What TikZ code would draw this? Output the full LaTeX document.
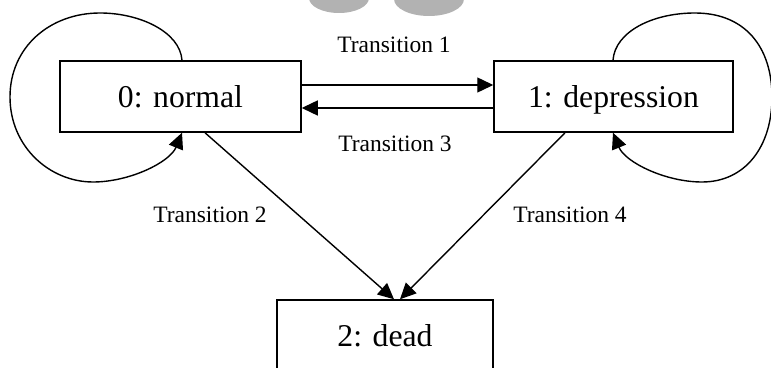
\documentclass[tikz,border=0pt]{standalone}
\usepackage{fontspec}
\setmainfont{Liberation Serif}
\usetikzlibrary{arrows.meta}

\tikzset{
	state/.style={draw, line width=1.5pt, minimum height=71pt, inner sep=0pt,
		text height=21.5pt, text depth=0pt, font=\fontsize{31.7}{36}\selectfont},
	trans/.style={line width=1.4pt, -{Triangle[length=16pt,width=15pt]}},
	lbl/.style={anchor=base, inner sep=0pt, font=\fontsize{23.5}{28}\selectfont}
}

\begin{document}
\begin{tikzpicture}[x=1pt,y=1pt]
\useasboundingbox (0,0) rectangle (771,367);
\clip (0,0) rectangle (771,367);
\fill[color=black!30!white] (339,369) ellipse (30pt and 15pt);
\fill[color=black!30!white] (429,368) ellipse (35pt and 17pt);

\node[state, minimum width=241pt] (normal) at (180.5,270.5) {0: normal};
\node[state, minimum width=239pt] (depr) at (613.5,270.5) {1: depression};
\node[state, minimum width=216pt] (dead) at (385,31.5) {2: dead};

\draw[trans] ([yshift=11.5pt]normal.east) -- ([yshift=11.5pt]depr.west);
\draw[trans] ([yshift=-11.5pt]depr.west) -- ([yshift=-11.5pt]normal.east);
\draw[trans] ([xshift=24.5pt]normal.south) -- ([xshift=9pt]dead.north);
\draw[trans] ([xshift=-48.5pt]depr.south) -- ([xshift=15pt]dead.north);

\draw[trans] ([xshift=1.5pt]normal.north) .. controls (180,335) and (140,354) .. (100,354)
	.. controls (50,354) and (10,320) .. (10,270)
	.. controls (10,220) and (50,185) .. (93,185)
	.. controls (130,185) and (170,205) .. ([xshift=1.5pt]normal.south);
\draw[trans] ([xshift=-0.5pt]depr.north) .. controls (615,335) and (652,354) .. (695,354)
	.. controls (745,354) and (772,320) .. (772,270)
	.. controls (772,220) and (745,185) .. (702,185)
	.. controls (665,185) and (625,205) .. ([xshift=-0.5pt]depr.south);

\node[lbl] (t1) at (394,314) {Transition 1};
\node[lbl] (t3) at (395,215) {Transition 3};
\node[lbl] (t2) at (210,144) {Transition 2};
\node[lbl] (t4) at (570,144) {Transition 4};
\end{tikzpicture}
\end{document}
